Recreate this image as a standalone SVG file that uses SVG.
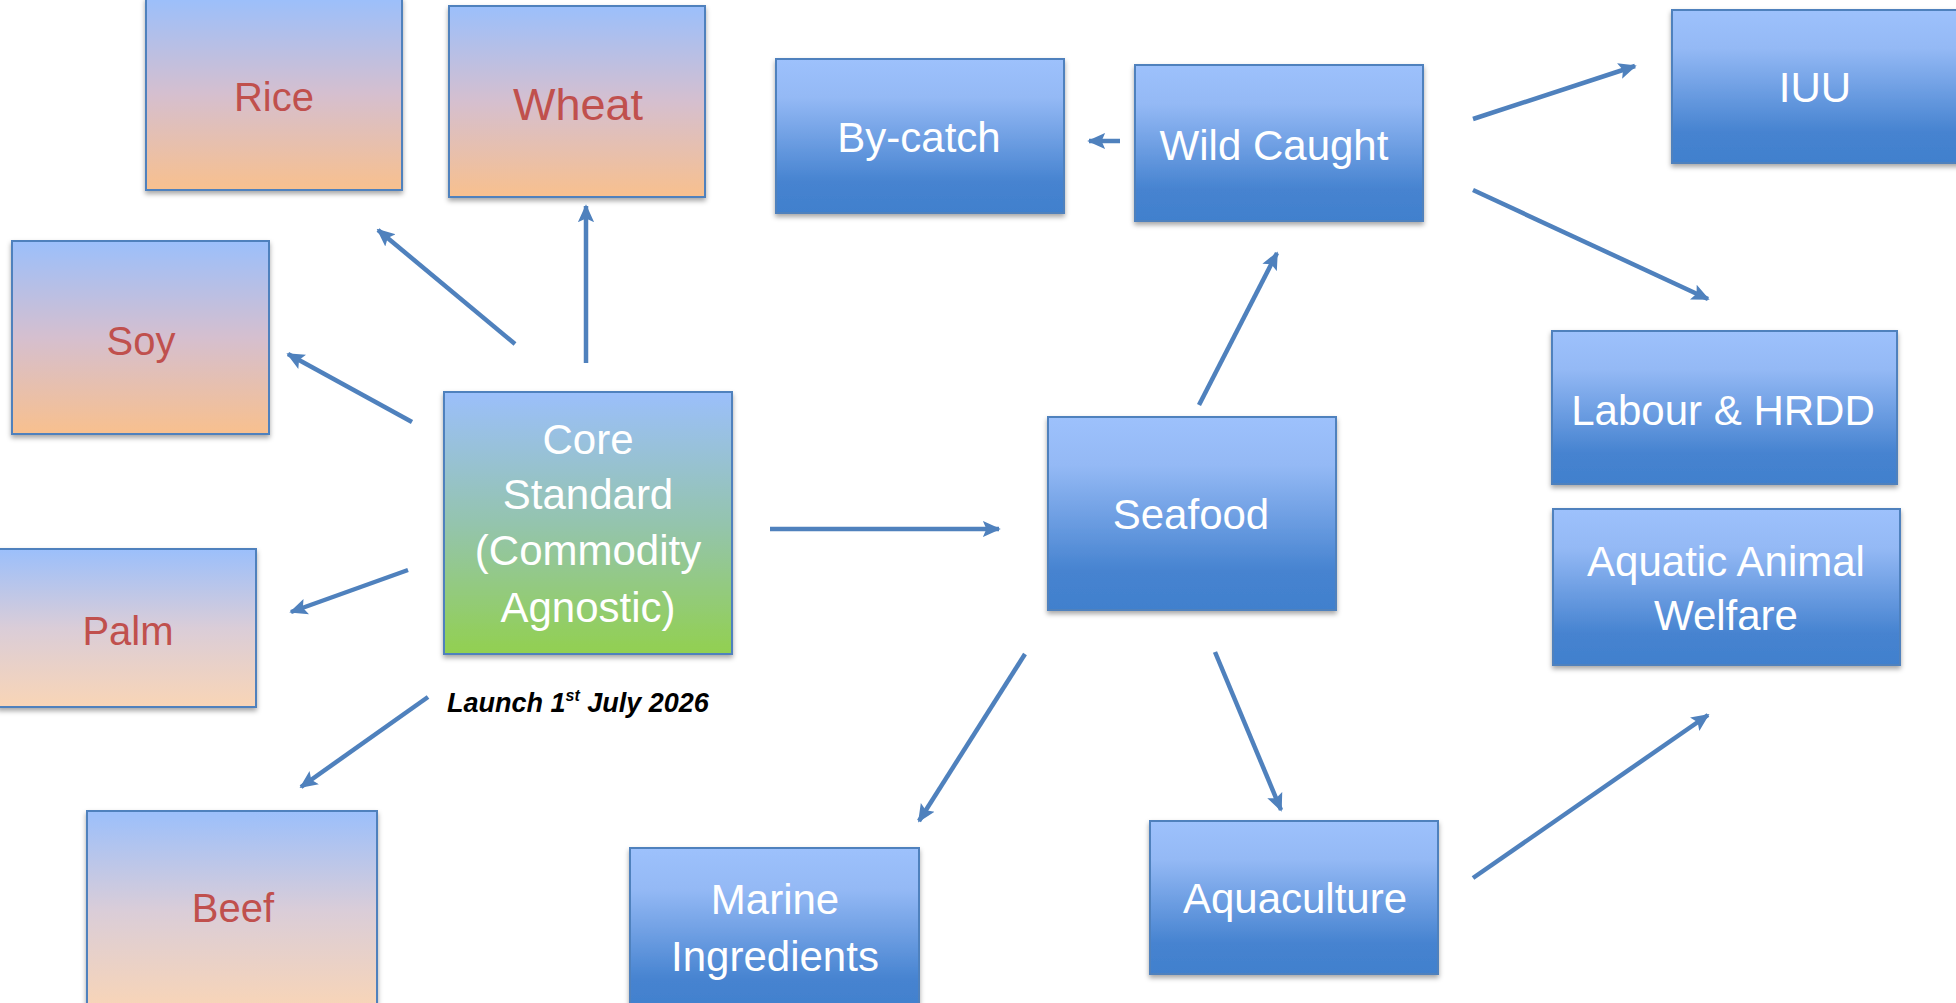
<svg xmlns="http://www.w3.org/2000/svg" width="1956" height="1003" viewBox="0 0 1956 1003">
<defs>
<linearGradient id="gBlue" x1="0" y1="0" x2="0" y2="1">
<stop offset="0" stop-color="#9DC1FC"/>
<stop offset="0.25" stop-color="#94B9F5"/>
<stop offset="0.8" stop-color="#4683D0"/>
<stop offset="1" stop-color="#4180CD"/>
</linearGradient>
<linearGradient id="gOrange" x1="0" y1="0" x2="0" y2="1">
<stop offset="0" stop-color="#9BBFFB"/>
<stop offset="0.5" stop-color="#D5BFCF"/>
<stop offset="1" stop-color="#F8C08E"/>
</linearGradient>
<linearGradient id="gPeach" x1="0" y1="0" x2="0" y2="1">
<stop offset="0" stop-color="#9BBFFB"/>
<stop offset="0.5" stop-color="#DACDD8"/>
<stop offset="1" stop-color="#F9D5B6"/>
</linearGradient>
<linearGradient id="gGreen" x1="0" y1="0" x2="0" y2="1">
<stop offset="0" stop-color="#9BBFFB"/>
<stop offset="0.5" stop-color="#94C4AE"/>
<stop offset="1" stop-color="#92D050"/>
</linearGradient>
<filter id="sh" x="-10%" y="-10%" width="120%" height="130%">
<feDropShadow dx="0" dy="3" stdDeviation="2.5" flood-color="#000" flood-opacity="0.35"/>
</filter>
<marker id="ah" viewBox="0 0 10 10" refX="9" refY="5" markerWidth="4" markerHeight="4" orient="auto" markerUnits="strokeWidth">
<path d="M0,0.5 L10,5 L0,9.5 L2,5 z" fill="#4F81BD"/>
</marker>
<style>
.box{stroke:#4F81BD;stroke-width:2;filter:url(#sh)}
.blue{fill:url(#gBlue)}
.orange{fill:url(#gOrange)}
.peach{fill:url(#gPeach)}
.green{fill:url(#gGreen)}
.wt{fill:#FFFFFF;font-family:"Liberation Sans",Arial,sans-serif;font-size:42px;text-anchor:middle}
.rt{fill:#C0504D;font-family:"Liberation Sans",Arial,sans-serif;font-size:40px;text-anchor:middle}
.rt.big{font-size:45px}
.launch{fill:#000;font-family:"Liberation Sans",Arial,sans-serif;font-size:27px;font-weight:bold;font-style:italic}
.conn line{stroke:#4F81BD;stroke-width:4.5;marker-end:url(#ah);fill:none}
</style>
</defs>

<g id="connectors" class="conn">
<line x1="515" y1="344" x2="378" y2="230"/>
<line x1="586" y1="363" x2="586" y2="206"/>
<line x1="412" y1="422" x2="288" y2="354"/>
<line x1="408" y1="570" x2="291" y2="612"/>
<line x1="428" y1="697" x2="301" y2="787"/>
<line x1="770" y1="529" x2="999" y2="529"/>
<line x1="1199" y1="405" x2="1277" y2="253"/>
<line x1="1120" y1="141" x2="1089" y2="141"/>
<line x1="1473" y1="119" x2="1635" y2="66"/>
<line x1="1473" y1="190" x2="1708" y2="299"/>
<line x1="1025" y1="654" x2="919" y2="821"/>
<line x1="1215" y1="652" x2="1281" y2="810"/>
<line x1="1473" y1="878" x2="1708" y2="715"/>
</g>

<g id="rice"><rect class="box orange" x="146" y="-2" width="256" height="192"/><text class="rt" x="274" y="111">Rice</text></g>
<g id="wheat"><rect class="box orange" x="449" y="6" width="256" height="191"/><text class="rt big" x="578" y="120">Wheat</text></g>
<g id="soy"><rect class="box orange" x="12" y="241" width="257" height="193"/><text class="rt" x="141" y="355">Soy</text></g>
<g id="palm"><rect class="box peach" x="-2" y="549" width="258" height="158"/><text class="rt" x="128" y="645">Palm</text></g>
<g id="beef"><rect class="box peach" x="87" y="811" width="290" height="200"/><text class="rt" x="233" y="922">Beef</text></g>

<g id="core"><rect class="box green" x="444" y="392" width="288" height="262"/>
<text class="wt" x="588" y="454">Core</text>
<text class="wt" x="588" y="509">Standard</text>
<text class="wt" x="588" y="565">(Commodity</text>
<text class="wt" x="588" y="622">Agnostic)</text>
</g>
<text id="launch" class="launch" x="447" y="712">Launch 1<tspan font-size="16" dy="-11">st</tspan><tspan dy="11"> July 2026</tspan></text>

<g id="seafood"><rect class="box blue" x="1048" y="417" width="288" height="193"/><text class="wt" x="1191" y="529">Seafood</text></g>
<g id="wildcaught"><rect class="box blue" x="1135" y="65" width="288" height="156"/><text class="wt" x="1274" y="160">Wild Caught</text></g>
<g id="bycatch"><rect class="box blue" x="776" y="59" width="288" height="154"/><text class="wt" x="919" y="152">By-catch</text></g>
<g id="iuu"><rect class="box blue" x="1672" y="10" width="290" height="153"/><text class="wt" x="1815" y="102">IUU</text></g>
<g id="labour"><rect class="box blue" x="1552" y="331" width="345" height="153"/><text class="wt" x="1723" y="425">Labour &amp; HRDD</text></g>
<g id="welfare"><rect class="box blue" x="1553" y="509" width="347" height="156"/>
<text class="wt" x="1726" y="576">Aquatic Animal</text>
<text class="wt" x="1726" y="630">Welfare</text></g>
<g id="marine"><rect class="box blue" x="630" y="848" width="289" height="165"/>
<text class="wt" x="775" y="914">Marine</text>
<text class="wt" x="775" y="971">Ingredients</text></g>
<g id="aquaculture"><rect class="box blue" x="1150" y="821" width="288" height="153"/><text class="wt" x="1295" y="913">Aquaculture</text></g>
</svg>
